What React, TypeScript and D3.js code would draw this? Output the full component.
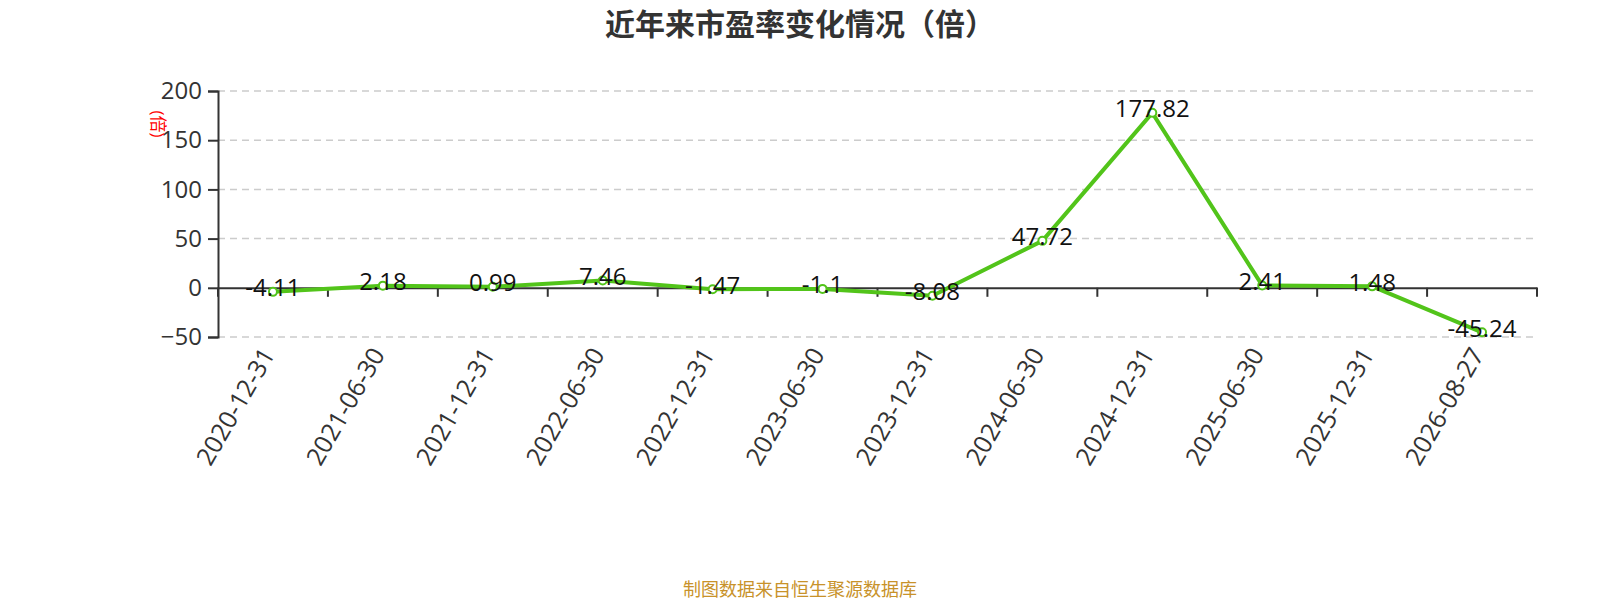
import { useEffect, useRef } from "react";
import * as d3 from "d3";

const dates = [
    "2020-12-31", "2021-06-30", "2021-12-31", "2022-06-30", "2022-12-31", "2023-06-30",
    "2023-12-31", "2024-06-30", "2024-12-31", "2025-06-30", "2025-12-31", "2026-08-27",
];
const peValues = [-4.11, 2.18, 0.99, 7.46, -1.47, -1.1, -8.08, 47.72, 177.82, 2.41, 1.48, -45.24];
const yTicks = [-50, 0, 50, 100, 150, 200];

const W = 1600;
const H = 600;
const FONT = "'Open Sans', 'Noto Sans CJK SC', sans-serif";

const App = () => {
    const svgRef = useRef<SVGSVGElement>(null);

    useEffect(() => {
        if (!svgRef.current) return;
        const svg = d3.select(svgRef.current);
        svg.selectAll("*").remove();

        const left = 218;
        const right = 1537;
        const top = 91;
        const bottom = 337;

        const x = d3.scaleBand<string>().domain(dates).range([left, right]);
        const y = d3.scaleLinear().domain([-50, 200]).range([bottom, top]);
        const green = "#52c41a";

        // Title
        svg.append("text")
            .attr("x", 800)
            .attr("y", 35)
            .attr("text-anchor", "middle")
            .attr("fill", "#333")
            .attr("font-size", "30px")
            .attr("font-weight", "bold")
            .attr("font-family", FONT)
            .text("近年来市盈率变化情况（倍）");

        // Grid lines
        yTicks.filter((t) => t !== 0).forEach((t) => {
            svg.append("line")
                .attr("x1", left)
                .attr("x2", right)
                .attr("y1", y(t))
                .attr("y2", y(t))
                .attr("stroke", "#ccc")
                .attr("stroke-width", 1.5)
                .attr("stroke-dasharray", "7,5");
        });

        // Y axis
        const yAxis = d3.axisLeft(y).tickValues(yTicks).tickSize(10).tickPadding(6);
        const yg = svg.append("g").attr("transform", `translate(${left},0)`).call(yAxis as any);
        yg.select(".domain").attr("stroke", "#333").attr("stroke-width", 2);
        yg.selectAll(".tick line").attr("stroke", "#333").attr("stroke-width", 2);
        yg.selectAll(".tick text")
            .attr("fill", "#333")
            .attr("font-size", "24px")
            .attr("font-family", FONT);

        // Y axis name
        svg.append("text")
            .attr("transform", `translate(157,124) rotate(90)`)
            .attr("text-anchor", "middle")
            .attr("dominant-baseline", "middle")
            .attr("fill", "red")
            .attr("font-size", "17px")
            .attr("font-family", FONT)
            .text("(倍)");

        // X axis on zero
        const xAxis = d3.axisBottom(x).tickSize(0).tickFormat(() => "");
        const xg = svg.append("g").attr("transform", `translate(0,${y(0)})`).call(xAxis as any);
        xg.select(".domain").attr("stroke", "#333").attr("stroke-width", 2);
        const boundaries = dates.map((d) => x(d) as number).concat([right]);
        boundaries.forEach((bx) => {
            xg.append("line")
                .attr("x1", bx)
                .attr("x2", bx)
                .attr("y1", 0)
                .attr("y2", 9)
                .attr("stroke", "#333")
                .attr("stroke-width", 2);
        });

        // X labels rotated
        dates.forEach((d) => {
            const cx = (x(d) as number) + x.bandwidth() / 2;
            svg.append("text")
                .attr("transform", `translate(${cx - 3},${bottom + 14}) rotate(-60)`)
                .attr("text-anchor", "end")
                .attr("dominant-baseline", "middle")
                .attr("fill", "#333")
                .attr("font-size", "25px")
                .attr("font-family", FONT)
                .text(d);
        });

        // Line
        const cxOf = (i: number) => (x(dates[i]) as number) + x.bandwidth() / 2;
        const line = d3.line<number>()
            .x((_, i) => cxOf(i))
            .y((v) => y(v));
        svg.append("path")
            .datum(peValues)
            .attr("d", line)
            .attr("fill", "none")
            .attr("stroke", green)
            .attr("stroke-width", 4)
            .attr("stroke-linejoin", "round");

        // Points
        peValues.forEach((v, i) => {
            svg.append("circle")
                .attr("cx", cxOf(i))
                .attr("cy", y(v))
                .attr("r", 4)
                .attr("fill", "#fff")
                .attr("stroke", green)
                .attr("stroke-width", 2);
        });

        // Value labels
        peValues.forEach((v, i) => {
            svg.append("text")
                .attr("x", cxOf(i))
                .attr("y", y(v) - 2)
                .attr("text-anchor", "middle")
                .attr("dominant-baseline", "middle")
                .attr("fill", "#111")
                .attr("font-size", "24px")
                .attr("font-family", FONT)
                .text(String(v));
        });

        // Footer
        svg.append("text")
            .attr("x", 800)
            .attr("y", 596)
            .attr("text-anchor", "middle")
            .attr("fill", "#c8922a")
            .attr("font-size", "18px")
            .attr("font-family", FONT)
            .text("制图数据来自恒生聚源数据库");
    }, []);

    return (
        <div style={{ position: "absolute", left: 0, top: 0 }}>
            <svg ref={svgRef} width={W} height={H} style={{ display: "block", background: "#fff" }} />
        </div>
    );
};

export default App;
